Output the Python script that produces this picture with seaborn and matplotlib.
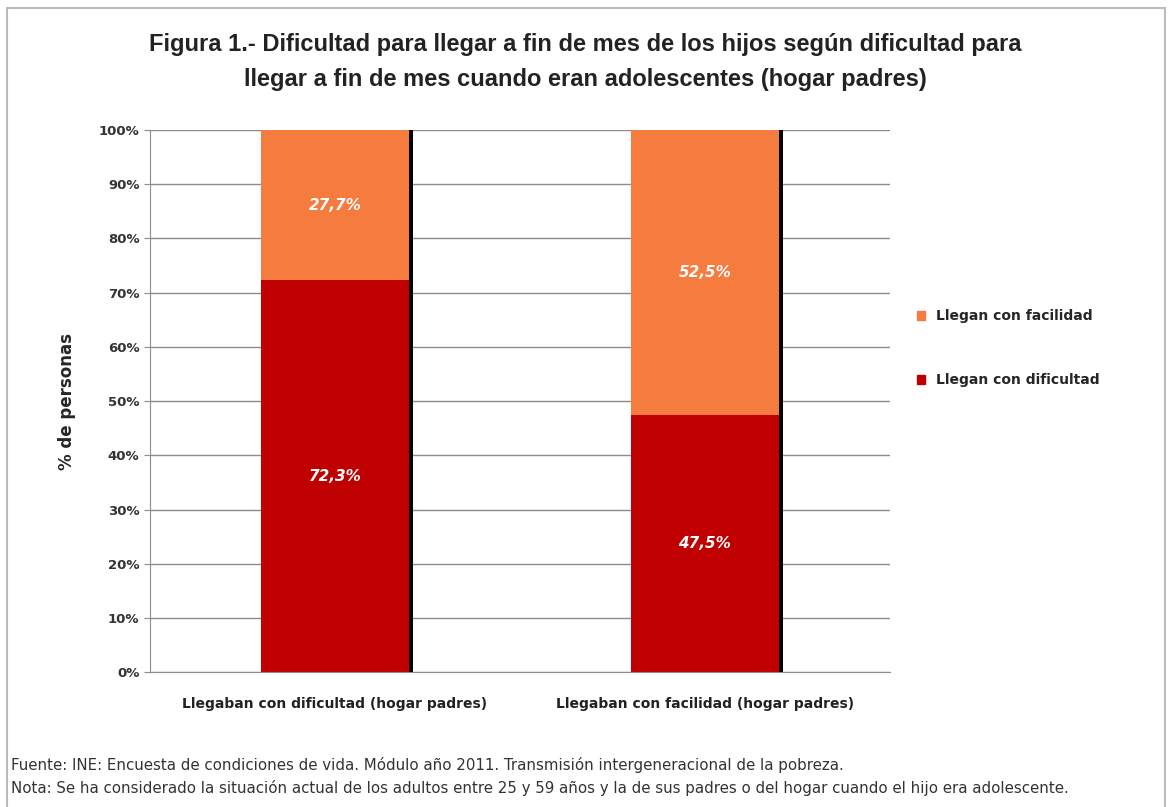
import numpy as np
import pandas as pd
import matplotlib.pyplot as plt
import matplotlib.patches as mpatches
import seaborn as sns

sns.set_style("white")
plt.rcParams['font.family'] = ['DejaVu Sans']

# datos
categorias = ["Llegaban con dificultad (hogar padres)", "Llegaban con facilidad (hogar padres)"]
con_dificultad = [72.3, 47.5]
con_facilidad = [27.7, 52.5]
series = ["Llegan con facilidad", "Llegan con dificultad"]
colores = ["#F57B3E", "#C00000"]

df = pd.DataFrame({"cat": categorias, "dif": con_dificultad, "fac": con_facilidad})
df["total"] = df["dif"] + df["fac"]

fig = plt.figure(figsize=(11.71, 8.07), dpi=100)
ax = fig.add_axes([0.128, 0.167, 0.632, 0.672])

sns.barplot(data=df, x="cat", y="total", color=colores[0], width=0.4, ax=ax, saturation=1, linewidth=0)
sns.barplot(data=df, x="cat", y="dif", color=colores[1], width=0.4, ax=ax, saturation=1, linewidth=0)

# sombra negra a la derecha de cada barra
for p in ax.patches[:len(categorias)]:
    ax.add_patch(mpatches.Rectangle((p.get_x() + p.get_width(), 0), 0.011, p.get_height(),
                                    color="black", zorder=p.get_zorder(), linewidth=0))

# etiquetas
for i in range(len(categorias)):
    d, f = con_dificultad[i], con_facilidad[i]
    ax.text(i, d / 2, f"{d:.1f}%".replace(".", ","), ha="center", va="center",
            color="white", fontsize=11, fontweight="bold", fontstyle="italic")
    ax.text(i, d + f / 2, f"{f:.1f}%".replace(".", ","), ha="center", va="center",
            color="white", fontsize=11, fontweight="bold", fontstyle="italic")

ax.set_ylim(0, 100)
ax.set_xlim(-0.5, 1.5)
ax.set_yticks(np.arange(0, 101, 10))
ax.set_yticklabels([f"{v}%" for v in range(0, 101, 10)], fontsize=9.5, fontweight="bold", color="#333333")
ax.tick_params(axis="x", labelsize=10, colors="#222222", pad=14)
for t in ax.get_xticklabels():
    t.set_fontweight("bold")
ax.set_xlabel("")
ax.set_ylabel("% de personas", fontsize=12, fontweight="bold", labelpad=16)
ax.yaxis.grid(True, color="#8c8c8c", linewidth=1)
ax.set_axisbelow(True)
for s in ["top", "right"]:
    ax.spines[s].set_visible(False)
ax.spines["left"].set_color("#8c8c8c")
ax.spines["bottom"].set_color("#8c8c8c")
ax.tick_params(axis="y", left=True, length=4, color="#8c8c8c")

handles = [mpatches.Patch(color=c, label=s) for s, c in zip(series, colores)]
fig.legend(handles=handles, loc="upper left", bbox_to_anchor=(0.772, 0.632), frameon=False,
           handlelength=0.6, handleheight=0.6, labelspacing=3.6,
           prop={"weight": "bold", "size": 10})

fig.text(0.5, 0.945, "Figura 1.- Dificultad para llegar a fin de mes de los hijos según dificultad para",
         ha="center", va="center", fontsize=17, fontweight="bold", color="#222222",
         family="Liberation Sans")
fig.text(0.5, 0.902, "llegar a fin de mes cuando eran adolescentes (hogar padres)",
         ha="center", va="center", fontsize=17, fontweight="bold", color="#222222",
         family="Liberation Sans")

fig.text(0.009, 0.052, "Fuente: INE: Encuesta de condiciones de vida. Módulo año 2011. Transmisión intergeneracional de la pobreza.",
         fontsize=10.8, color="#333333", va="center")
fig.text(0.009, 0.024, "Nota: Se ha considerado la situación actual de los adultos entre 25 y 59 años y la de sus padres o del hogar cuando el hijo era adolescente.",
         fontsize=10.8, color="#333333", va="center")

# marco
fig.patches.append(mpatches.Rectangle((0.006, -0.01), 0.989, 1.0, transform=fig.transFigure,
                                      fill=False, edgecolor="#bbbbbb", linewidth=1.5))

fig.savefig("out.png", dpi=100)
